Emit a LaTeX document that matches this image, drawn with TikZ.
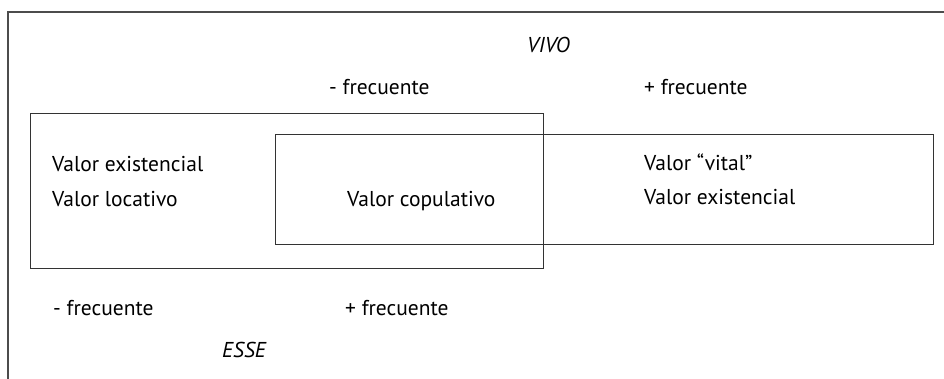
\documentclass[tikz,border=0pt]{standalone}
\usepackage{fontspec}
\setmainfont{PT Sans}
\begin{document}
\begin{tikzpicture}[x=1pt,y=-1pt,
  lbl/.style={anchor=base west,inner sep=0pt,font=\fontsize{21.5}{24}\selectfont},
  box/.style={draw=black!80,line width=1.1pt},
  frame/.style={draw=black!70,line width=1.8pt}]
\useasboundingbox (0,0) rectangle (944,379);
\coordinate (ftr) at (944,12);
\coordinate (ftl) at (8,12);
\coordinate (fbl) at (8,379);
\draw[frame] (ftr) -- (ftl) -- (fbl);
\node[box,draw,rectangle,inner sep=0pt,minimum width=513pt,minimum height=155pt,anchor=north west] (b1) at (30,113) {};
\node[box,draw,rectangle,inner sep=0pt,minimum width=658pt,minimum height=110pt,anchor=north west] (b2) at (275,134) {};
\node[lbl,font=\fontsize{21.5}{24}\selectfont\itshape] (vivo) at (527,53) {VIVO};
\node[lbl] (tm) at (329,95) {- frecuente};
\node[lbl] (tp) at (644,95) {+ frecuente};
\node[lbl] (le) at (52,172) {Valor existencial};
\node[lbl] (ll) at (52,207) {Valor locativo};
\node[lbl] (cp) at (347,207) {Valor copulativo};
\node[lbl] (rv) at (644,171) {Valor “vital”};
\node[lbl] (re) at (644,205) {Valor existencial};
\node[lbl] (bm) at (53,315) {- frecuente};
\node[lbl] (bp) at (345,315) {+ frecuente};
\node[lbl,font=\fontsize{21.5}{24}\selectfont\itshape] (esse) at (222,357) {ESSE};
\end{tikzpicture}
\end{document}
